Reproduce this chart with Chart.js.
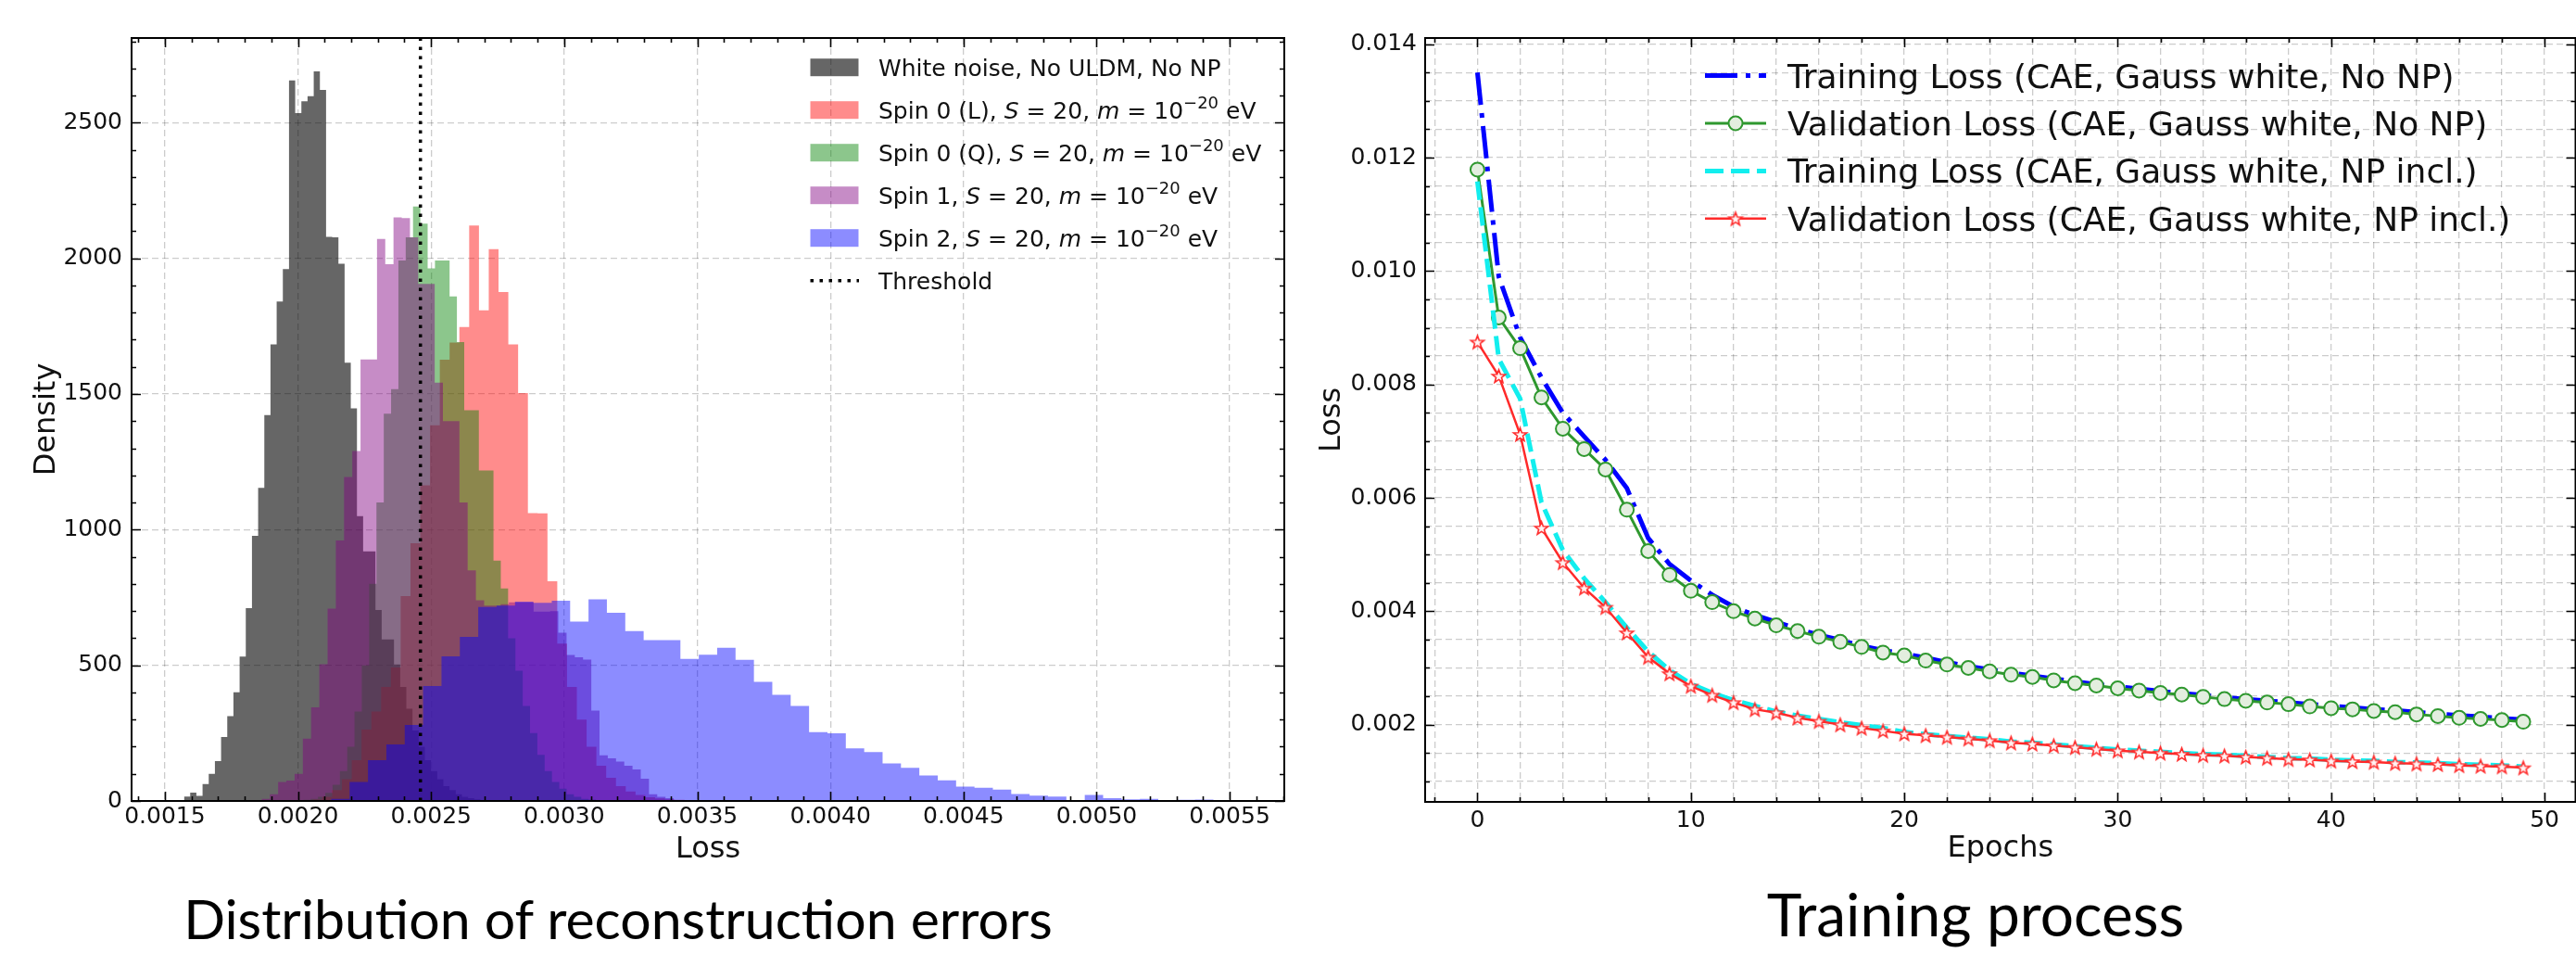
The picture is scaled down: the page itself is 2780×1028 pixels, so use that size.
<!DOCTYPE html>
<html>
<head>
<meta charset="utf-8">
<script src="https://cdn.jsdelivr.net/npm/chart.js@4.4.1/dist/chart.umd.min.js"></script>
<style>
html,body{margin:0;padding:0;background:#fff;overflow:hidden;width:2780px;height:1028px;}
#wrap{position:relative;width:2780px;height:1028px;overflow:hidden;background:#fff;}
canvas{position:absolute;top:0;}
#c1{left:0;width:1400px;height:950px;}
#c2{left:1400px;width:1390px;height:950px;}
.cap{position:absolute;font-family:Lato,'Open Sans',sans-serif;color:#000;white-space:nowrap;transform:translateX(-50%);}
#cap1{left:667px;top:961px;font-size:59px;line-height:59px;}
#cap2{left:2132px;top:954px;font-size:64px;line-height:64px;}
</style>
</head>
<body>
<div id="wrap">
<canvas id="c1" width="1400" height="950"></canvas>
<canvas id="c2" width="1390" height="950"></canvas>
<div class="cap" id="cap1">Distribution of reconstruction errors</div>
<div class="cap" id="cap2">Training process</div>
</div>
<script>
// ================= LEFT PANEL DATA (histograms) =================
const HIST_LABELS = [
  'White noise, No ULDM, No NP',
  'Spin 0 (L), S = 20, m = 10⁻²⁰ eV',
  'Spin 0 (Q), S = 20, m = 10⁻²⁰ eV',
  'Spin 1, S = 20, m = 10⁻²⁰ eV',
  'Spin 2, S = 20, m = 10⁻²⁰ eV'
];
// legend text with *italic* and ^superscript^ markup
const HIST_LEGEND_RICH = [
  'White noise, No ULDM, No NP',
  'Spin 0 (L), *S* = 20, *m* = 10^−20^ eV',
  'Spin 0 (Q), *S* = 20, *m* = 10^−20^ eV',
  'Spin 1, *S* = 20, *m* = 10^−20^ eV',
  'Spin 2, *S* = 20, *m* = 10^−20^ eV'
];
const THRESHOLD_LABEL = 'Threshold';

// first bin edge and bin width of every histogram (Loss units)
const BIN_START = [0.001572, 0.0020548, 0.0019925, 0.0018635, 0.0020558];
const BIN_WIDTH = [0.0000232, 0.00003677, 0.00002748, 0.00003096, 0.00006904];

const WHITE_NOISE_COUNTS = [16,31,19,62,100,147,236,313,401,532,711,977,1154,1422,1683,1841,1960,2656,2535,2579,
  2598,2689,2621,2079,2077,1980,1615,1447,1050,920,920,704,595,595,503,420,340,260,200,150,
  110,80,55,40,25,15,10,6,3,2];
const SPIN0L_COUNTS = [5,15,40,80,150,263,330,420,492,755,950,1163,1385,1626,1690,1747,2121,1808,2034,1876,
  1683,1503,1061,1060,810,580,420,300,200,130,85,55,35,22,14,9,6,4,3,2,
  1,1,1,0,1,0,0,0,0,1];
const SPIN0Q_COUNTS = [2,4,8,15,30,60,110,200,330,500,800,1100,1427,1518,1992,2077,2191,2128,1963,1992,
  1992,1860,1691,1440,1440,1218,1218,886,783,600,480,350,250,170,110,70,45,25,15,8,
  5,3,2,1,1,0,0,1,0,1];
const SPIN1_COUNTS = [8,25,70,75,100,230,345,504,709,960,1194,1290,1627,1627,2071,1978,2151,2148,2077,1906,
  1906,1542,1400,1400,1100,850,740,720,720,725,732,732,732,698,698,700,620,538,530,521,
  333,168,157,145,130,116,82,25,15,10];
const SPIN2_COUNTS = [3,8,70,150,208,280,424,533,605,715,720,735,730,738,661,743,694,626,593,593,
  524,539,565,520,439,391,350,254,249,194,180,138,122,94,76,53,49,42,26,20,
  16,3,22,10,6,8,2,4,5,3];
const HIST_COUNTS = [WHITE_NOISE_COUNTS, SPIN0L_COUNTS, SPIN0Q_COUNTS, SPIN1_COUNTS, SPIN2_COUNTS];
const THRESHOLD = 0.00246;

const LEFT_X_MAJOR = [0.0015,0.0020,0.0025,0.0030,0.0035,0.0040,0.0045,0.0050,0.0055];
const LEFT_Y_MAJOR = [0,500,1000,1500,2000,2500];

// ================= RIGHT PANEL DATA (training curves) =================
const EPOCHS = [0,1,2,3,4,5,6,7,8,9,10,11,12,13,14,15,16,17,18,19,20,21,22,23,24,25,26,27,28,29,
  30,31,32,33,34,35,36,37,38,39,40,41,42,43,44,45,46,47,48,49];
const LINE_LABELS = [
  'Training Loss (CAE, Gauss white, No NP)',
  'Validation Loss (CAE, Gauss white, No NP)',
  'Training Loss (CAE, Gauss white, NP incl.)',
  'Validation Loss (CAE, Gauss white, NP incl.)'
];
const TRAIN_NO_NP = [0.01350,0.00990,0.00883,0.00812,0.00750,0.00708,0.00667,0.00617,0.00529,0.00483,
  0.00454,0.00429,0.00408,0.00393,0.00381,0.00369,0.00358,0.00349,0.00339,0.00331,
  0.00325,0.00318,0.00310,0.00303,0.00297,0.00291,0.00286,0.00281,0.00276,0.00271,
  0.00267,0.00263,0.00259,0.00255,0.00252,0.00248,0.00245,0.00242,0.00239,0.00236,
  0.00233,0.00230,0.00227,0.00225,0.00222,0.00219,0.00216,0.00214,0.00211,0.00209];
const VAL_NO_NP = [0.01179,0.00918,0.00864,0.00777,0.00722,0.00686,0.00650,0.00579,0.00506,0.00464,
  0.00436,0.00416,0.00400,0.00387,0.00375,0.00365,0.00355,0.00346,0.00337,0.00327,
  0.00322,0.00313,0.00306,0.00300,0.00294,0.00288,0.00284,0.00278,0.00273,0.00269,
  0.00264,0.00260,0.00256,0.00253,0.00249,0.00245,0.00242,0.00239,0.00236,0.00232,
  0.00229,0.00227,0.00224,0.00222,0.00218,0.00215,0.00212,0.00210,0.00208,0.00205];
const TRAIN_NP = [0.01158,0.00845,0.00775,0.00592,0.00508,0.00458,0.00416,0.00371,0.00329,0.00296,
  0.00272,0.00256,0.00243,0.00233,0.00223,0.00216,0.00210,0.00204,0.00199,0.00194,
  0.00187,0.00183,0.00180,0.00177,0.00174,0.00170,0.00168,0.00165,0.00162,0.00159,
  0.00156,0.00154,0.00152,0.00150,0.00148,0.00147,0.00145,0.00143,0.00141,0.00140,
  0.00138,0.00137,0.00136,0.00134,0.00133,0.00132,0.00130,0.00129,0.00128,0.00126];
const VAL_NP = [0.00875,0.00815,0.00712,0.00547,0.00486,0.00441,0.00407,0.00362,0.00319,0.00290,
  0.00268,0.00252,0.00239,0.00227,0.00221,0.00212,0.00206,0.00200,0.00194,0.00189,
  0.00184,0.00181,0.00178,0.00175,0.00172,0.00168,0.00166,0.00163,0.00160,0.00157,
  0.00154,0.00152,0.00150,0.00148,0.00146,0.00145,0.00143,0.00141,0.00139,0.00138,
  0.00136,0.00135,0.00134,0.00132,0.00131,0.00130,0.00128,0.00127,0.00126,0.00124];
const LINE_VALUES = [TRAIN_NO_NP, VAL_NO_NP, TRAIN_NP, VAL_NP];

const RIGHT_X_MAJOR = [0,10,20,30,40,50];
const RIGHT_Y_MAJOR = [0.002,0.004,0.006,0.008,0.010,0.012,0.014];

// ================= helpers =================
const FONT = "'DejaVu Sans', 'Liberation Sans', sans-serif";

function makeTicks(min, max, step, majors) {
  const out = [];
  const k0 = Math.ceil(min / step - 1e-9), k1 = Math.floor(max / step + 1e-9);
  for (let k = k0; k <= k1; k++) {
    const v = parseFloat((k * step).toPrecision(10));
    out.push({value: v, major: majors.some(m => Math.abs(m - v) < step * 1e-3)});
  }
  return out;
}

function histPoints(start, width, counts) {
  const pts = counts.map((c, i) => ({x: start + i * width, y: c}));
  pts.push({x: start + counts.length * width, y: counts[counts.length - 1]});
  return pts;
}

function drawRich(ctx, text, x, y, size) {
  const parts = text.split(/(\*[^*]+\*|\^[^^]+\^)/g).filter(s => s.length);
  let cx = x;
  for (const p of parts) {
    let t = p, font = size + 'px ' + FONT, dy = 0;
    if (p[0] === '*') { t = p.slice(1, -1); font = 'italic ' + size + 'px ' + FONT; }
    else if (p[0] === '^') { t = p.slice(1, -1); font = Math.round(size * 0.7) + 'px ' + FONT; dy = -size * 0.42; }
    ctx.font = font;
    ctx.fillText(t, cx, y + dy);
    cx += ctx.measureText(t).width;
  }
}

// frame + inward ticks on all four sides
const frameTicks = {
  id: 'frameTicks',
  afterDatasetsDraw(chart) {
    const {ctx, chartArea: a, scales} = chart;
    ctx.save();
    ctx.setLineDash([]);
    ctx.strokeStyle = '#000';
    ctx.lineWidth = 1.6;
    ctx.beginPath();
    scales.x.ticks.forEach(t => {
      const px = Math.round(scales.x.getPixelForValue(t.value)) + 0.5;
      const L = t.major ? 10 : 5;
      ctx.moveTo(px, a.bottom); ctx.lineTo(px, a.bottom - L);
      ctx.moveTo(px, a.top); ctx.lineTo(px, a.top + L);
    });
    scales.y.ticks.forEach(t => {
      const py = Math.round(scales.y.getPixelForValue(t.value)) + 0.5;
      const L = t.major ? 10 : 5;
      ctx.moveTo(a.left, py); ctx.lineTo(a.left + L, py);
      ctx.moveTo(a.right, py); ctx.lineTo(a.right - L, py);
    });
    ctx.stroke();
    ctx.lineWidth = 2;
    ctx.strokeRect(a.left, a.top, a.right - a.left, a.bottom - a.top);
    ctx.restore();
  }
};

// ================= LEFT CHART =================
const HIST_COLORS = ['rgba(0,0,0,0.6)', 'rgba(255,0,0,0.45)', 'rgba(0,128,0,0.45)', 'rgba(128,0,128,0.45)', 'rgba(0,0,255,0.45)'];
const L_XMIN = 0.001375, L_XMAX = 0.005705, L_YMIN = 0, L_YMAX = 2812;

const histDatasets = HIST_COUNTS.map((counts, i) => ({
  label: HIST_LABELS[i],
  data: histPoints(BIN_START[i], BIN_WIDTH[i], counts),
  stepped: true,
  fill: 'origin',
  backgroundColor: HIST_COLORS[i],
  borderColor: 'rgba(0,0,0,0)',
  borderWidth: 0,
  pointRadius: 0,
  order: 10 - i
}));
histDatasets.push({
  label: THRESHOLD_LABEL,
  data: [{x: THRESHOLD, y: L_YMIN}, {x: THRESHOLD, y: L_YMAX}],
  borderColor: '#000',
  borderWidth: 3.5,
  borderDash: [3.5, 6.5],
  borderCapStyle: 'butt',
  pointRadius: 0,
  fill: false,
  order: 0
});

const histLegend = {
  id: 'histLegend',
  afterDraw(chart) {
    const ctx = chart.ctx;
    ctx.save();
    ctx.textBaseline = 'alphabetic';
    ctx.textAlign = 'left';
    ctx.fillStyle = '#111';
    const ds = chart.data.datasets;
    for (let i = 0; i < ds.length; i++) {
      const yb = 81.7 + 46 * i;
      if (i < HIST_LEGEND_RICH.length) {
        ctx.fillStyle = ds[i].backgroundColor;
        ctx.fillRect(874.5, yb - 18.5, 52, 19);
        ctx.fillStyle = '#111';
        drawRich(ctx, HIST_LEGEND_RICH[i], 948, yb, 25);
      } else {
        ctx.strokeStyle = ds[i].borderColor;
        ctx.lineWidth = 3.5;
        ctx.setLineDash(ds[i].borderDash);
        ctx.beginPath(); ctx.moveTo(874.5, yb - 9); ctx.lineTo(927, yb - 9); ctx.stroke();
        ctx.setLineDash([]);
        ctx.fillStyle = '#111';
        drawRich(ctx, ds[i].label, 948, yb, 25);
      }
    }
    ctx.restore();
  }
};

new Chart(document.getElementById('c1'), {
  type: 'line',
  data: {datasets: histDatasets},
  options: {
    responsive: false, maintainAspectRatio: false, animation: false, devicePixelRatio: 1,
    layout: {padding: {top: 41, right: 14, left: 0, bottom: 0}},
    plugins: {legend: {display: false}, tooltip: {enabled: false}},
    elements: {line: {tension: 0}},
    scales: {
      x: {
        type: 'linear', min: L_XMIN, max: L_XMAX,
        afterBuildTicks: s => { s.ticks = makeTicks(L_XMIN, L_XMAX, 0.0001, LEFT_X_MAJOR); },
        afterFit: s => { s.height = 86; },
        grid: {color: c => (c.tick && c.tick.major) ? 'rgba(0,0,0,0.2)' : 'rgba(0,0,0,0)', lineWidth: 1.3, drawTicks: false, borderDash: [7, 4]},
        border: {display: false, dash: [7, 4]},
        ticks: {autoSkip: false, maxRotation: 0, minRotation: 0, padding: 2, color: '#111', font: {family: FONT, size: 25},
          callback: (v, i, t) => t[i].major ? v.toFixed(4) : ''},
        title: {display: true, text: 'Loss', color: '#111', font: {family: FONT, size: 32}, padding: {top: 0, bottom: 14}}
      },
      y: {
        type: 'linear', min: L_YMIN, max: L_YMAX,
        afterBuildTicks: s => { s.ticks = makeTicks(L_YMIN, L_YMAX, 100, LEFT_Y_MAJOR); },
        afterFit: s => { s.width = 142; },
        grid: {color: c => (c.tick && c.tick.major) ? 'rgba(0,0,0,0.2)' : 'rgba(0,0,0,0)', lineWidth: 1.3, drawTicks: false, borderDash: [7, 4]},
        border: {display: false, dash: [7, 4]},
        ticks: {autoSkip: false, padding: 10, color: '#111', font: {family: FONT, size: 25},
          callback: (v, i, t) => t[i].major ? String(Math.round(v)) : ''},
        title: {display: true, text: 'Density', color: '#111', font: {family: FONT, size: 32}, padding: {top: 31, bottom: 0}}
      }
    }
  },
  plugins: [frameTicks, histLegend]
});

// ================= RIGHT CHART =================
function makeStar(r, stroke, fill, lw) {
  const s = Math.ceil(2 * r + 2 * lw + 4);
  const c = document.createElement('canvas');
  c.width = s; c.height = s;
  const g = c.getContext('2d');
  g.translate(s / 2, s / 2 + r * 0.1);
  g.beginPath();
  for (let i = 0; i < 10; i++) {
    const rr = (i % 2) ? r * 0.42 : r;
    const a = -Math.PI / 2 + i * Math.PI / 5;
    g.lineTo(rr * Math.cos(a), rr * Math.sin(a));
  }
  g.closePath();
  g.fillStyle = fill; g.fill();
  g.lineWidth = lw; g.strokeStyle = stroke; g.stroke();
  return c;
}
const STAR = makeStar(7.5, '#ff2a2a', '#fff4f4', 1.6);
const R_XMIN = -2.45, R_XMAX = 51.45, R_YMIN = 0.000637, R_YMAX = 0.01411;

const LINE_STYLES = [
  {borderColor: '#0000ff', borderWidth: 5, borderDash: [35, 9, 5, 9], pointRadius: 0, order: 4},
  {borderColor: '#2f982f', borderWidth: 3, pointStyle: 'circle', pointRadius: 7.5, pointBorderWidth: 2,
   pointBorderColor: '#2f982f', pointBackgroundColor: '#e3eedf', order: 3},
  {borderColor: '#12eeee', borderWidth: 5, borderDash: [20, 8], pointRadius: 0, order: 2},
  {borderColor: '#ff2a2a', borderWidth: 2.5, pointStyle: STAR, pointRadius: 8, order: 1}
];
const lineDatasets = LINE_VALUES.map((vals, i) => Object.assign({
  label: LINE_LABELS[i],
  data: EPOCHS.map((e, j) => ({x: e, y: vals[j]})),
  fill: false, tension: 0, borderCapStyle: 'butt'
}, LINE_STYLES[i]));

const lineLegend = {
  id: 'lineLegend',
  afterDraw(chart) {
    const ctx = chart.ctx;
    ctx.save();
    chart.data.datasets.forEach((ds, i) => {
      const yb = 94.6 + 51.4 * i, yc = yb - 13;
      ctx.strokeStyle = ds.borderColor;
      ctx.lineWidth = ds.borderWidth;
      ctx.lineCap = 'butt';
      ctx.setLineDash(ds.borderDash || []);
      ctx.beginPath(); ctx.moveTo(440, yc); ctx.lineTo(506, yc); ctx.stroke();
      ctx.setLineDash([]);
      if (ds.pointStyle === 'circle') {
        ctx.beginPath(); ctx.arc(473, yc, ds.pointRadius, 0, Math.PI * 2);
        ctx.fillStyle = ds.pointBackgroundColor; ctx.fill();
        ctx.lineWidth = ds.pointBorderWidth; ctx.strokeStyle = ds.pointBorderColor; ctx.stroke();
      } else if (ds.pointStyle && ds.pointStyle.getContext) {
        ctx.drawImage(ds.pointStyle, 473 - ds.pointStyle.width / 2, yc - ds.pointStyle.height / 2);
      }
      ctx.fillStyle = '#111';
      ctx.font = '36px ' + FONT;
      ctx.textBaseline = 'alphabetic';
      ctx.textAlign = 'left';
      ctx.fillText(ds.label, 529, yb);
    });
    ctx.restore();
  }
};

new Chart(document.getElementById('c2'), {
  type: 'line',
  data: {datasets: lineDatasets},
  options: {
    responsive: false, maintainAspectRatio: false, animation: false, devicePixelRatio: 1,
    layout: {padding: {top: 41, right: 7, left: 0, bottom: 0}},
    plugins: {legend: {display: false}, tooltip: {enabled: false}},
    scales: {
      x: {
        type: 'linear', min: R_XMIN, max: R_XMAX,
        afterBuildTicks: s => { s.ticks = makeTicks(R_XMIN, R_XMAX, 2, RIGHT_X_MAJOR); },
        afterFit: s => { s.height = 85; },
        grid: {color: 'rgba(0,0,0,0.2)', lineWidth: 1.3, drawTicks: false, borderDash: [7, 4]},
        border: {display: false, dash: [7, 4]},
        ticks: {autoSkip: false, maxRotation: 0, minRotation: 0, padding: 5, color: '#111', font: {family: FONT, size: 25},
          callback: (v, i, t) => t[i].major ? String(Math.round(v)) : ''},
        title: {display: true, text: 'Epochs', color: '#111', font: {family: FONT, size: 32}, padding: {top: 0, bottom: 15}}
      },
      y: {
        type: 'linear', min: R_YMIN, max: R_YMAX,
        afterBuildTicks: s => { s.ticks = makeTicks(R_YMIN, R_YMAX, 0.0005, RIGHT_Y_MAJOR); },
        afterFit: s => { s.width = 138; },
        grid: {color: 'rgba(0,0,0,0.2)', lineWidth: 1.3, drawTicks: false, borderDash: [7, 4]},
        border: {display: false, dash: [7, 4]},
        ticks: {autoSkip: false, padding: 9, color: '#111', font: {family: FONT, size: 25},
          callback: (v, i, t) => t[i].major ? v.toFixed(3) : ''},
        title: {display: true, text: 'Loss', color: '#111', font: {family: FONT, size: 32}, padding: {top: 18, bottom: 0}}
      }
    }
  },
  plugins: [frameTicks, lineLegend]
});
</script>
</body>
</html>
